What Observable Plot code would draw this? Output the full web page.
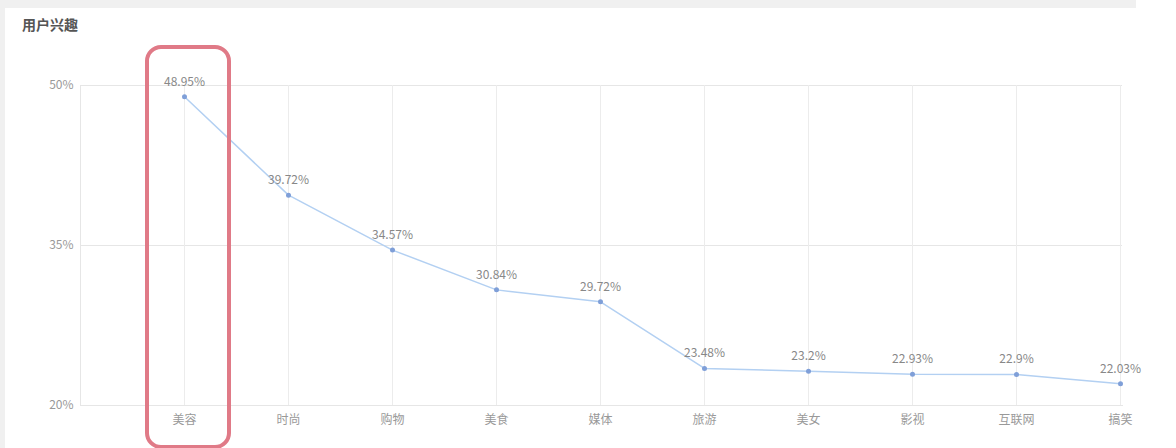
<!DOCTYPE html>
<html>
<head>
<meta charset="utf-8">
<script src="https://cdn.jsdelivr.net/npm/d3@7"></script>
<script src="https://cdn.jsdelivr.net/npm/@observablehq/plot@0.6"></script>
<style>
  html, body { margin: 0; padding: 0; }
  body { width: 1176px; height: 448px; background: #fff; position: relative; overflow: hidden;
         font-family: "Noto Sans CJK SC", "Noto Sans", sans-serif; }
  #topstrip { position: absolute; left: 0; top: 0; width: 1136px; height: 8px; background: #f0f0f0; }
  #leftstrip { position: absolute; left: 0; top: 0; width: 5px; height: 448px; background: #f0f0f0; }
  #card { position: absolute; left: 5px; top: 8px; width: 1171px; height: 440px; background: #fff; }
  #title { height: 32px; box-sizing: border-box; padding-top: 7px; padding-left: 17px; line-height: 18px;
           font-size: 14px; font-weight: bold; color: #555; }
  #highlight { position: absolute; left: 145px; top: 45px; width: 86px; height: 404px; box-sizing: border-box;
               border: 4px solid #e07a87; border-radius: 16px; pointer-events: none; }
</style>
</head>
<body>
<div id="topstrip"></div>
<div id="leftstrip"></div>
<div id="card">
  <div id="title">用户兴趣</div>
  <div id="chart"></div>
</div>
<div id="highlight"></div>
<script>
const categories = ["美容", "时尚", "购物", "美食", "媒体", "旅游", "美女", "影视", "互联网", "搞笑"];
const values = [48.95, 39.72, 34.57, 30.84, 29.72, 23.48, 23.2, 22.93, 22.9, 22.03];
const yTicks = [20, 35, 50];

const data = categories.map((c, i) => ({category: c, value: values[i]}));

const chart = Plot.plot({
  width: 1171,
  height: 408,
  marginTop: 45,
  marginBottom: 43,
  marginLeft: 75,
  marginRight: 54,
  style: {fontFamily: "'Noto Sans CJK SC', 'Noto Sans', sans-serif", fontSize: "12px", background: "transparent"},
  x: {type: "point", domain: categories, range: [175, 1119], padding: 0, label: null},
  y: {domain: [20, 50], label: null},
  marks: [
    Plot.gridY(yTicks, {stroke: "#e6e6e6", strokeOpacity: 1}),
    Plot.gridX(categories, {stroke: "#ececec", strokeOpacity: 1}),
    Plot.frame({anchor: "left", stroke: "#e6e6e6"}),
    Plot.frame({anchor: "bottom", stroke: "#e6e6e6"}),
    Plot.axisY(yTicks, {tickSize: 0, tickPadding: 7, tickFormat: d => d + "%", fill: "#999", fontSize: 12, label: null}),
    Plot.axisX(categories, {tickSize: 0, tickPadding: 10, fill: "#999", fontSize: 12, label: null}),
    Plot.line(data, {x: "category", y: "value", stroke: "#b3d0f2", strokeWidth: 1.5}),
    Plot.dot(data, {x: "category", y: "value", r: 2.5, fill: "#7f9fd8", stroke: "none"}),
    Plot.text(data, {x: "category", y: "value", text: d => d.value + "%", dy: -15, fill: "#888", fontSize: 12})
  ]
});
document.getElementById("chart").appendChild(chart);
</script>
</body>
</html>
